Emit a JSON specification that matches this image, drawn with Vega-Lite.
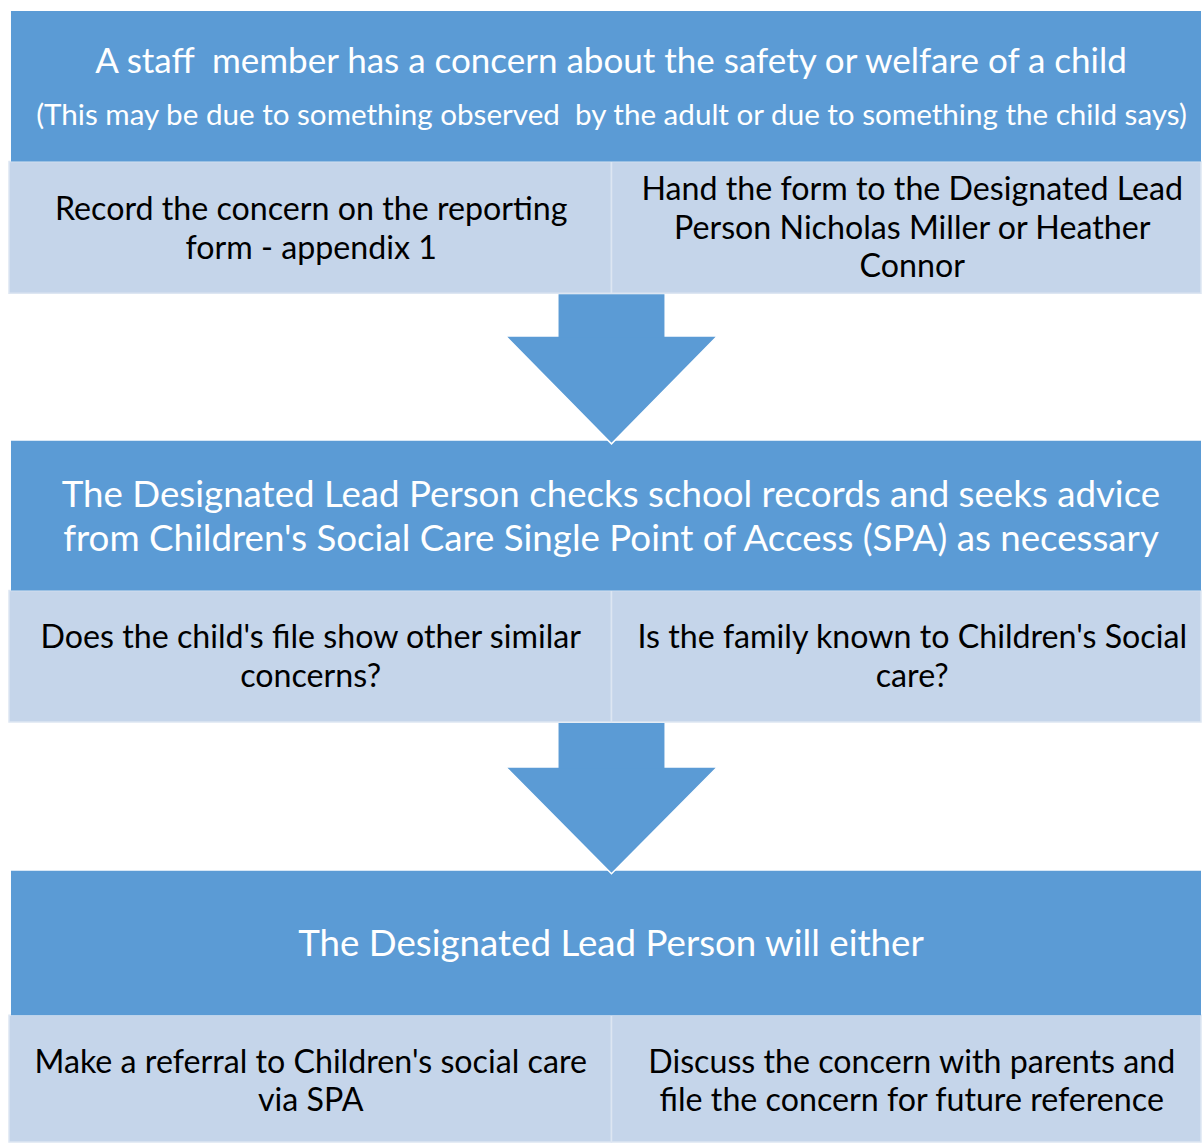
{
  "$schema": "https://vega.github.io/schema/vega-lite/v6.json",
  "width": 1202,
  "height": 1143,
  "autosize": {"type": "fit", "contains": "padding"},
  "padding": 0,
  "background": "white",
  "config": {"view": {"stroke": null}},
  "datasets": {
    "boxes": [
      {"kind": "head", "x0": 11, "x1": 1202, "y0": 11, "y1": 162},
      {"kind": "sub", "x0": 9, "x1": 612, "y0": 162, "y1": 294},
      {"kind": "sub", "x0": 612, "x1": 1202, "y0": 162, "y1": 294},
      {"kind": "head", "x0": 11, "x1": 1202, "y0": 442, "y1": 592},
      {"kind": "sub", "x0": 9, "x1": 612, "y0": 592, "y1": 724},
      {"kind": "sub", "x0": 612, "x1": 1202, "y0": 592, "y1": 724},
      {"kind": "head", "x0": 11, "x1": 1202, "y0": 873, "y1": 1018},
      {"kind": "sub", "x0": 9, "x1": 612, "y0": 1018, "y1": 1145},
      {"kind": "sub", "x0": 612, "x1": 1202, "y0": 1018, "y1": 1145},
      {"kind": "shaft", "x0": 559, "x1": 665, "y0": 295, "y1": 338.5},
      {"kind": "shaft", "x0": 559, "x1": 665, "y0": 725, "y1": 770.5}
    ],
    "heads": [
      {"arrow": 1, "y": 337, "xl": 506, "xr": 718},
      {"arrow": 1, "y": 445, "xl": 612, "xr": 612},
      {"arrow": 2, "y": 769, "xl": 506, "xr": 718},
      {"arrow": 2, "y": 876, "xl": 612, "xr": 612}
    ],
    "labels": [
      {"level": "main", "x": 611.5, "y": 73, "text": "A staff\u00a0 member has a concern about the safety or welfare of a child"},
      {"level": "note", "x": 612, "y": 125, "text": "(This may be due to something observed\u00a0 by the adult or due to something the child says)"},
      {"level": "body", "x": 311.5, "y": 220.5, "text": "Record the concern on the reporting"},
      {"level": "body", "x": 311.5, "y": 259.5, "text": "form - appendix 1"},
      {"level": "body", "x": 913, "y": 200.5, "text": "Hand the form to the Designated Lead"},
      {"level": "body", "x": 913, "y": 239.5, "text": "Person Nicholas Miller or Heather"},
      {"level": "body", "x": 913, "y": 277.5, "text": "Connor"},
      {"level": "heading", "x": 611.5, "y": 508, "text": "The Designated Lead Person checks school records and seeks advice"},
      {"level": "heading", "x": 611.5, "y": 552, "text": "from Children's Social Care Single Point of Access (SPA) as necessary"},
      {"level": "body", "x": 311, "y": 649.5, "text": "Does the child's file show other similar"},
      {"level": "body", "x": 311, "y": 688.5, "text": "concerns?"},
      {"level": "body", "x": 913, "y": 649.5, "text": "Is the family known to Children's Social"},
      {"level": "body", "x": 913, "y": 688.5, "text": "care?"},
      {"level": "heading", "x": 611.5, "y": 959, "text": "The Designated Lead Person will either"},
      {"level": "body", "x": 311, "y": 1075.5, "text": "Make a referral to Children's social care"},
      {"level": "body", "x": 311, "y": 1113.5, "text": "via SPA"},
      {"level": "body", "x": 912.5, "y": 1075.5, "text": "Discuss the concern with parents and"},
      {"level": "body", "x": 912.5, "y": 1113.5, "text": "file the concern for future reference"}
    ]
  },
  "layer": [
    {
      "data": {"name": "boxes"},
      "transform": [{"filter": "datum.kind === 'sub'"}],
      "mark": {"type": "rect", "fill": "#C5D5EA", "stroke": "#DDE6F2", "strokeWidth": 1.5},
      "encoding": {
        "x": {"field": "x0", "type": "quantitative", "scale": {"domain": [0, 1202], "nice": false, "zero": false}, "axis": null},
        "x2": {"field": "x1"},
        "y": {"field": "y0", "type": "quantitative", "scale": {"domain": [0, 1143], "nice": false, "zero": false, "reverse": true}, "axis": null},
        "y2": {"field": "y1"}
      }
    },
    {
      "data": {"name": "boxes"},
      "transform": [{"filter": "datum.kind === 'head'"}],
      "mark": {"type": "rect", "fill": "#5B9BD5"},
      "encoding": {
        "x": {"field": "x0", "type": "quantitative", "axis": null},
        "x2": {"field": "x1"},
        "y": {"field": "y0", "type": "quantitative", "axis": null},
        "y2": {"field": "y1"}
      }
    },
    {
      "data": {"name": "heads"},
      "mark": {"type": "area", "orient": "horizontal", "fill": "#5B9BD5", "stroke": "white", "strokeWidth": 1.5, "strokeJoin": "miter"},
      "encoding": {
        "y": {"field": "y", "type": "quantitative", "axis": null},
        "x": {"field": "xl", "type": "quantitative", "axis": null},
        "x2": {"field": "xr"},
        "detail": {"field": "arrow", "type": "nominal"}
      }
    },
    {
      "data": {"name": "boxes"},
      "transform": [{"filter": "datum.kind === 'shaft'"}],
      "mark": {"type": "rect", "fill": "#5B9BD5"},
      "encoding": {
        "x": {"field": "x0", "type": "quantitative", "axis": null},
        "x2": {"field": "x1"},
        "y": {"field": "y0", "type": "quantitative", "axis": null},
        "y2": {"field": "y1"}
      }
    },
    {
      "data": {"name": "labels"},
      "transform": [{"filter": "datum.level === 'main'"}],
      "mark": {"type": "text", "font": "Lato", "fontSize": 35, "fill": "white", "align": "center", "baseline": "alphabetic"},
      "encoding": {
        "x": {"field": "x", "type": "quantitative", "axis": null},
        "y": {"field": "y", "type": "quantitative", "axis": null},
        "text": {"field": "text"}
      }
    },
    {
      "data": {"name": "labels"},
      "transform": [{"filter": "datum.level === 'note'"}],
      "mark": {"type": "text", "font": "Lato", "fontSize": 29.6, "fill": "white", "align": "center", "baseline": "alphabetic"},
      "encoding": {
        "x": {"field": "x", "type": "quantitative", "axis": null},
        "y": {"field": "y", "type": "quantitative", "axis": null},
        "text": {"field": "text"}
      }
    },
    {
      "data": {"name": "labels"},
      "transform": [{"filter": "datum.level === 'heading'"}],
      "mark": {"type": "text", "font": "Lato", "fontSize": 36.7, "fill": "white", "align": "center", "baseline": "alphabetic"},
      "encoding": {
        "x": {"field": "x", "type": "quantitative", "axis": null},
        "y": {"field": "y", "type": "quantitative", "axis": null},
        "text": {"field": "text"}
      }
    },
    {
      "data": {"name": "labels"},
      "transform": [{"filter": "datum.level === 'body'"}],
      "mark": {"type": "text", "font": "Lato", "fontSize": 32.2, "fill": "black", "align": "center", "baseline": "alphabetic"},
      "encoding": {
        "x": {"field": "x", "type": "quantitative", "axis": null},
        "y": {"field": "y", "type": "quantitative", "axis": null},
        "text": {"field": "text"}
      }
    }
  ]
}
